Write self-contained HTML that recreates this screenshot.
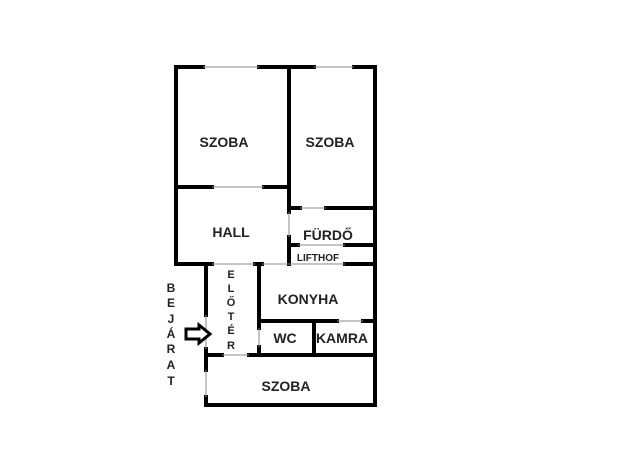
<!DOCTYPE html>
<html><head><style>
html,body{margin:0;padding:0;background:#fff;}
svg{display:block}
text{font-family:"Liberation Sans",sans-serif;font-weight:bold;fill:#222;text-anchor:middle}
</style></head><body>
<svg width="640" height="466" viewBox="0 0 640 466">
<g stroke="#000" stroke-width="4" stroke-linecap="square" fill="none">
<line x1="176" y1="67" x2="203" y2="67"/>
<line x1="259" y1="67" x2="314" y2="67"/>
<line x1="354" y1="67" x2="375" y2="67"/>
<line x1="176" y1="67" x2="176" y2="264"/>
<line x1="375" y1="67" x2="375" y2="405"/>
<line x1="289" y1="67" x2="289" y2="212"/>
<line x1="289" y1="237" x2="289" y2="264"/>
<line x1="176" y1="187" x2="212" y2="187"/>
<line x1="264" y1="187" x2="289" y2="187"/>
<line x1="289" y1="208" x2="300" y2="208"/>
<line x1="326" y1="208" x2="375" y2="208"/>
<line x1="289" y1="245" x2="298" y2="245"/>
<line x1="345" y1="245" x2="375" y2="245"/>
<line x1="176" y1="264" x2="212" y2="264"/>
<line x1="255" y1="264" x2="262" y2="264"/>
<line x1="345" y1="264" x2="375" y2="264"/>
<line x1="206" y1="264" x2="206" y2="315"/>
<line x1="206" y1="349" x2="206" y2="370"/>
<line x1="206" y1="397" x2="206" y2="405"/>
<line x1="259" y1="264" x2="259" y2="328"/>
<line x1="259" y1="347" x2="259" y2="354"/>
<line x1="259" y1="321" x2="337" y2="321"/>
<line x1="363" y1="321" x2="375" y2="321"/>
<line x1="314" y1="321" x2="314" y2="354"/>
<line x1="206" y1="355" x2="222" y2="355"/>
<line x1="249" y1="355" x2="375" y2="355"/>
<line x1="206" y1="405" x2="375" y2="405"/>
</g>
<g stroke="#888" stroke-width="1">
<line x1="203" y1="67" x2="259" y2="67"/>
<line x1="314" y1="67" x2="354" y2="67"/>
<line x1="212" y1="187" x2="264" y2="187"/>
<line x1="289" y1="212" x2="289" y2="237"/>
<line x1="300" y1="208" x2="326" y2="208"/>
<line x1="298" y1="245" x2="345" y2="245"/>
<line x1="212" y1="264" x2="255" y2="264"/>
<line x1="262" y1="264" x2="345" y2="264"/>
<line x1="206" y1="315" x2="206" y2="349"/>
<line x1="206" y1="370" x2="206" y2="397"/>
<line x1="259" y1="328" x2="259" y2="347"/>
<line x1="337" y1="321" x2="363" y2="321"/>
<line x1="222" y1="355" x2="249" y2="355"/>
</g>
<path d="M186 329 L199 329 L199 325 L210 334 L199 343 L199 339 L186 339 Z" fill="#fff" stroke="#000" stroke-width="3" stroke-linejoin="miter"/>
<g font-size="14">
<text x="224" y="147">SZOBA</text>
<text x="330" y="147">SZOBA</text>
<text x="231" y="237">HALL</text>
<text x="328" y="240">FÜRDŐ</text>
<text x="308" y="304">KONYHA</text>
<text x="285" y="343">WC</text>
<text x="342" y="343">KAMRA</text>
<text x="286" y="391">SZOBA</text>
</g>
<text x="318" y="261" font-size="10">LIFTHOF</text>
<g font-size="11">
<text x="231" y="278">E</text>
<text x="231" y="292">L</text>
<text x="231" y="306">Ő</text>
<text x="231" y="320">T</text>
<text x="231" y="334">É</text>
<text x="231" y="349">R</text>
</g>
<g font-size="12">
<text x="171" y="292">B</text>
<text x="171" y="307">E</text>
<text x="171" y="323">J</text>
<text x="171" y="338">Á</text>
<text x="171" y="353">R</text>
<text x="171" y="369">A</text>
<text x="171" y="385">T</text>
</g>
</svg>
</body></html>
